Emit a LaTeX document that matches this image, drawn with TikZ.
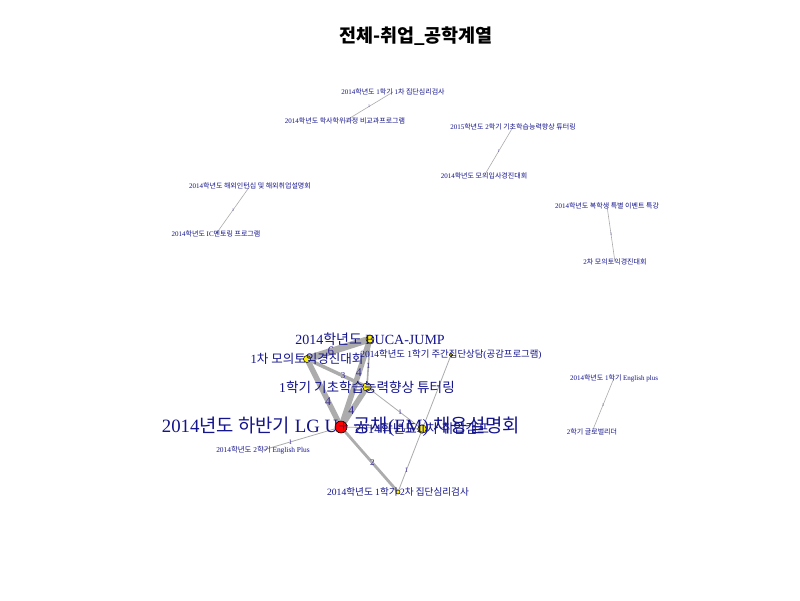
\documentclass[tikz,border=0pt]{standalone}
\usepackage{fontspec}
\setmainfont{Liberation Serif}
\newfontfamily\kr{Noto Sans CJK KR}
\newcommand\K[1]{{\kr #1}}
\definecolor{lab}{RGB}{20,20,140}
\definecolor{elab}{RGB}{55,45,150}
\definecolor{edgec}{RGB}{172,172,172}
\begin{document}
\begin{tikzpicture}[x=1pt,y=-1pt,
  vlab/.style={text=lab, inner sep=0pt, anchor=center},
  fs/.style={font=\fontsize{#1}{#1}\selectfont},
  edg/.style={draw=edgec, line cap=round, line width=#1},
  elab/.style={text=elab, inner sep=0pt, font=\fontsize{#1}{#1}\selectfont},
  dot/.style={circle, draw=black, line width=0.5pt, fill=yellow, inner sep=0pt, minimum size=#1},
  hubdot/.style={circle, draw=black, line width=0.6pt, fill=red, inner sep=0pt, minimum size=#1}]
\useasboundingbox (0,0) rectangle (800,600);
\fill[white] (0,0) rectangle (800,600);

% title
\node[inner sep=0pt, font=\kr\bfseries\fontsize{18.5}{18.5}\selectfont] (title) at (416,36) {전체-취업\_공학계열};

% vertex coordinates
\coordinate (A) at (393,92);
\coordinate (B) at (345,121);
\coordinate (C) at (513,127);
\coordinate (D) at (484,176);
\coordinate (E) at (250,186);
\coordinate (F) at (216,234);
\coordinate (G) at (607,206);
\coordinate (H) at (615,262);
\coordinate (I) at (614,378);
\coordinate (J) at (592,432);
\coordinate (bu) at (370,339);
\coordinate (mo) at (307,359);
\coordinate (tu) at (367,387);
\coordinate (hub) at (341,427);
\coordinate (yy) at (422,429);
\coordinate (ju) at (451,355);
\coordinate (gs) at (398,492);
\coordinate (ep) at (263,450);

% edges, isolated pairs
\draw[edg=0.6pt] (A) -- node[elab=4]{1} (B);
\draw[edg=0.6pt] (C) -- node[elab=4]{1} (D);
\draw[edg=0.6pt] (E) -- node[elab=4]{1} (F);
\draw[edg=0.6pt] (G) -- node[elab=4]{1} (H);
\draw[edg=0.6pt] (I) -- node[elab=4]{1} (J);

% edges, main cluster
\draw[edg=7pt] (bu) -- node[elab=13, pos=0.62]{6} (mo);
\draw[edg=5.5pt] (mo) -- node[elab=12, pos=0.62]{4} (hub);
\draw[edg=5.5pt] (bu) -- node[elab=12, pos=0.38]{4} (hub);
\draw[edg=5.5pt] (tu) -- node[elab=12, pos=0.6]{4} (hub);
\draw[edg=3.5pt] (mo) -- node[elab=9, pos=0.6]{3} (tu);
\draw[edg=1.6pt] (bu) -- node[elab=8, pos=0.55]{1} (tu);
\draw[edg=2.8pt] (hub) -- node[elab=9, pos=0.55]{2} (gs);
\draw[edg=0.8pt] (tu) -- node[elab=7, pos=0.6]{1} (yy);
\draw[edg=0.8pt] (ju) -- node[elab=7, pos=0.84]{1} (gs);
\draw[edg=0.8pt] (hub) -- (yy);
\draw[edg=0.8pt] (hub) -- node[elab=7, pos=0.65]{1} (ep);

% vertex dots
\node[hubdot=12pt] (hubd) at (hub) {};
\node[dot=8pt] (bud) at (bu) {};
\node[dot=8.5pt] (tud) at (tu) {};
\node[dot=7pt] (mod) at (mo) {};
\node[dot=8.5pt] (yyd) at (yy) {};
\node[dot=3.5pt] (jud) at (ju) {};
\node[dot=4pt] (gsd) at (gs) {};

% vertex labels
\node[vlab, fs=7] (Al) at (A) {2014\K{학년도} 1\K{학기} 1\K{차 집단심리검사}};
\node[vlab, fs=7] (Bl) at (B) {2014\K{학년도 학사학위과정 비교과프로그램}};
\node[vlab, fs=7] (Cl) at (C) {2015\K{학년도} 2\K{학기 기초학습능력향상 튜터링}};
\node[vlab, fs=7] (Dl) at (D) {2014\K{학년도 모의입사경진대회}};
\node[vlab, fs=7] (El) at (E) {2014\K{학년도 해외인턴십 및 해외취업설명회}};
\node[vlab, fs=7] (Fl) at (F) {2014\K{학년도} IC\K{멘토링 프로그램}};
\node[vlab, fs=7] (Gl) at (G) {2014\K{학년도 복학생 특별 이벤트 특강}};
\node[vlab, fs=7] (Hl) at (H) {2\K{차 모의토익경진대회}};
\node[vlab, fs=7] (Il) at (I) {2014\K{학년도} 1\K{학기} English plus};
\node[vlab, fs=7] (Jl) at (J) {2\K{학기 글로벌리더}};
\node[vlab, fs=7.4] (epl) at (ep) {2014\K{학년도} 2\K{학기} English Plus};
\node[vlab, fs=9.4] (jul) at (ju) {2014\K{학년도} 1\K{학기 주간집단상담}(\K{공감프로그램})};
\node[vlab, fs=9.6] (gsl) at (gs) {2014\K{학년도} 1\K{학기} 2\K{차 집단심리검사}};
\node[vlab, fs=12.5] (mol) at (mo) {1\K{차 모의토익경진대회}};
\node[vlab, fs=14] (bul) at (bu) {2014\K{학년도} BUCA-JUMP};
\node[vlab, fs=13.6] (tul) at (tu) {1\K{학기 기초학습능력향상 튜터링}};
\node[vlab, fs=13] (yyl) at (yy) {2014\K{학년도} 1\K{차 취업캠프}};
\node[vlab, fs=18.8] (hubl) at (hub) {2014\K{년도 하반기} LG U+ \K{공채}(EM) \K{채용설명회}};
\end{tikzpicture}
\end{document}
